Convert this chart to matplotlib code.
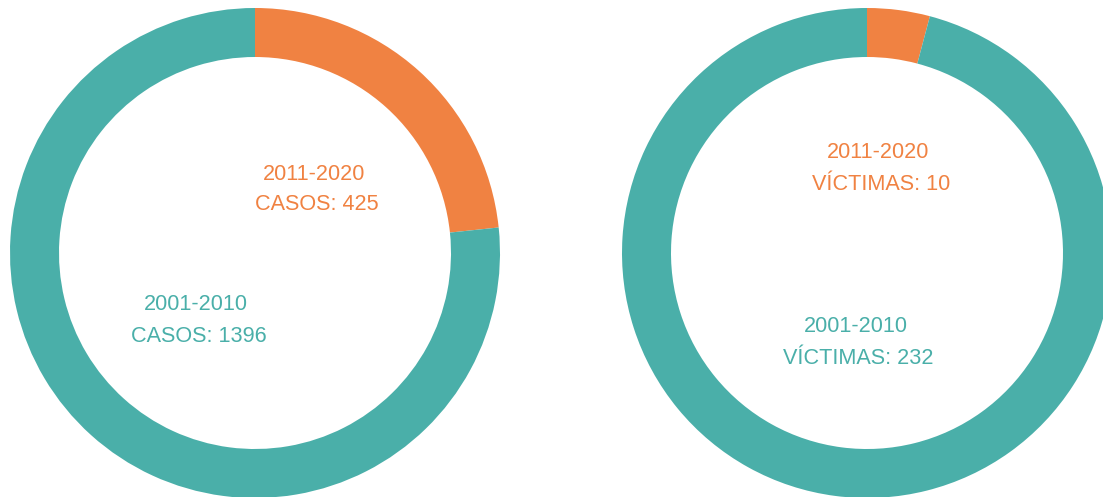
import matplotlib
matplotlib.use("Agg")
import matplotlib.pyplot as plt

# Datos
periodos = ["2011-2020", "2001-2010"]
casos = [425, 1396]
victimas = [10, 232]

colores = ["#F08242", "#4AAFA9"]

plt.rcParams['font.family'] = ['Liberation Sans', 'DejaVu Sans']

W, H = 1103, 497
fig = plt.figure(figsize=(W / 100, H / 100), dpi=100)
ax = fig.add_axes([0, 0, 1, 1])

radio = 245
ancho = 49

# Donut izquierdo (casos)
ax.pie(casos, colors=colores, center=(255, H - 253), radius=radio,
       startangle=90, counterclock=False,
       wedgeprops=dict(width=ancho, linewidth=0), frame=True)

# Donut derecho (víctimas)
ax.pie(victimas, colors=colores, center=(867, H - 253), radius=radio,
       startangle=90, counterclock=False,
       wedgeprops=dict(width=ancho, linewidth=0), frame=True)

ax.set_xlim(0, W)
ax.set_ylim(0, H)
ax.set_aspect("equal")
ax.axis("off")

fs = 15.6
dy = 2
ax.text(314, H - 172 - dy, periodos[0], color=colores[0], fontsize=fs, ha="center", va="center")
ax.text(317, H - 203 - dy, f"CASOS: {casos[0]}", color=colores[0], fontsize=fs, ha="center", va="center")
ax.text(196, H - 303 - dy, periodos[1], color=colores[1], fontsize=fs, ha="center", va="center")
ax.text(199, H - 334 - dy, f"CASOS: {casos[1]}", color=colores[1], fontsize=fs, ha="center", va="center")

ax.text(878, H - 151 - dy, periodos[0], color=colores[0], fontsize=fs, ha="center", va="center")
ax.text(881, H - 182 - dy, f"VÍCTIMAS: {victimas[0]}", color=colores[0], fontsize=fs, ha="center", va="center")
ax.text(856, H - 325 - dy, periodos[1], color=colores[1], fontsize=fs, ha="center", va="center")
ax.text(858, H - 356 - dy, f"VÍCTIMAS: {victimas[1]}", color=colores[1], fontsize=fs, ha="center", va="center")

fig.savefig("out.png", dpi=100)
